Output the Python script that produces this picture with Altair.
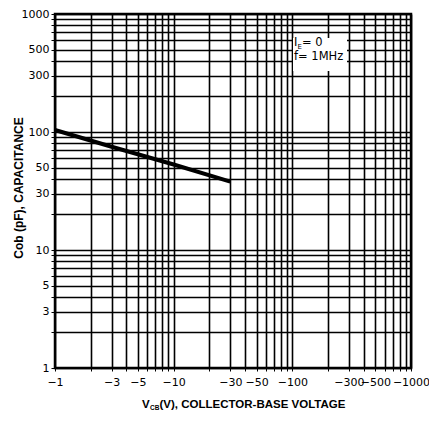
import altair as alt
import pandas as pd

# Data (magnitudes of V_CB, volts; Cob in pF)
vcb = [1, 3, 10, 30]
cob = [104, 75, 53, 38]

grid_vals = [1, 2, 3, 4, 5, 6, 7, 8, 9,
             10, 20, 30, 40, 50, 60, 70, 80, 90,
             100, 200, 300, 400, 500, 600, 700, 800, 900, 1000]
label_vals = [1, 3, 5, 10, 30, 50, 100, 300, 500, 1000]

df = pd.DataFrame({"vcb": vcb, "cob": cob})

W, H = 356, 354
FONT = "DejaVu Sans"
TFONT = "Liberation Sans"

lbl_list = "[" + ",".join(str(v) for v in label_vals) + "]"

x_axis = alt.Axis(values=grid_vals, grid=True, gridColor="black", gridWidth=1.6,
                  gridOpacity=1, domain=False, ticks=True, tickSize=3, tickColor="black",
                  labelExpr=f"indexof({lbl_list}, datum.value) >= 0 ? '\u2212' + datum.value : ''",
                  labelOverlap=False, labelFlush=False, labelFont=FONT, labelFontSize=11,
                  labelColor="black", labelPadding=5, title=None)
y_axis = alt.Axis(values=grid_vals, grid=True, gridColor="black", gridWidth=1.6,
                  gridOpacity=1, domain=False, ticks=True, tickSize=4, tickColor="black",
                  labelExpr=f"indexof({lbl_list}, datum.value) >= 0 ? '' + datum.value : ''",
                  labelOverlap=False, labelFlush=False, labelFont=FONT, labelFontSize=11,
                  labelColor="black", labelPadding=2, title=None)

xs = alt.Scale(type="log", domain=[1, 1000], nice=False)
ys = alt.Scale(type="log", domain=[1, 1000], nice=False)

line = alt.Chart(df).mark_line(color="black", strokeWidth=4, strokeCap="butt").encode(
    x=alt.X("vcb:Q", scale=xs, axis=x_axis),
    y=alt.Y("cob:Q", scale=ys, axis=y_axis),
)

base = alt.Chart(pd.DataFrame({"a": [0]}))

box = base.mark_rect(color="white").encode(
    x=alt.value(238), x2=alt.value(292), y=alt.value(24), y2=alt.value(57))

t_I = base.mark_text(text="I", font=FONT, fontSize=11.5, align="left", baseline="middle",
                     color="black").encode(x=alt.value(239), y=alt.value(29))
t_E = base.mark_text(text="E", font=FONT, fontSize=7, align="left", baseline="middle",
                     color="black").encode(x=alt.value(242.5), y=alt.value(32.5))
t_eq = base.mark_text(text="= 0", font=FONT, fontSize=11.5, align="left", baseline="middle",
                      color="black").encode(x=alt.value(247), y=alt.value(29))
t_f = base.mark_text(text="f= 1MHz", font=FONT, fontSize=11.5, align="left", baseline="middle",
                     color="black").encode(x=alt.value(239), y=alt.value(43))

xt_V = base.mark_text(text="V", font=TFONT, fontSize=11.5, fontWeight="bold", align="left",
                      baseline="middle", color="black").encode(x=alt.value(87), y=alt.value(391))
xt_CB = base.mark_text(text="CB", font=TFONT, fontSize=6.5, fontWeight="bold", align="left",
                       baseline="middle", color="black").encode(x=alt.value(95), y=alt.value(393.5))
xt_rest = base.mark_text(text="(V), COLLECTOR-BASE VOLTAGE", font=TFONT, fontSize=11.5,
                         fontWeight="bold", align="left", baseline="middle",
                         color="black").encode(x=alt.value(104.5), y=alt.value(391))
yt = base.mark_text(text="Cob (pF), CAPACITANCE", font=TFONT, fontSize=12, fontWeight="bold",
                    align="center", baseline="middle", angle=270,
                    color="black").encode(x=alt.value(-36), y=alt.value(174))

chart = alt.layer(line, box, t_I, t_E, t_eq, t_f, xt_V, xt_CB, xt_rest, yt).properties(
    width=W, height=H,
    autosize=alt.AutoSizeParams(type="none"),
    padding={"left": 55, "top": 14, "right": 18, "bottom": 54},
    background="white",
).configure_view(stroke="black", strokeWidth=2.5)

chart.save("out.html", embed_options={"renderer": "svg", "actions": False})
